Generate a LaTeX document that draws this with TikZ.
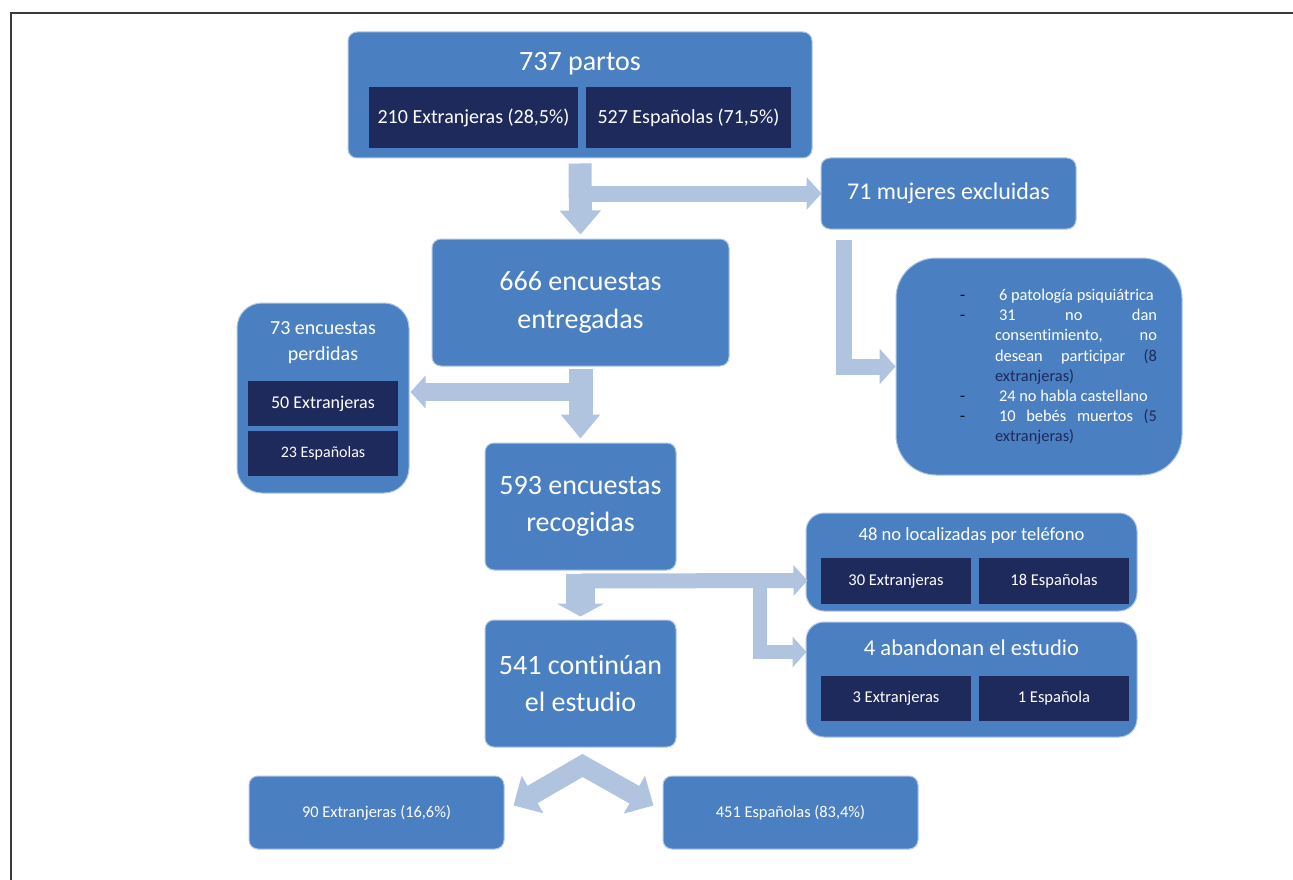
\documentclass[tikz,border=0pt]{standalone}
\usepackage{fontspec}
\setmainfont{Carlito}[Ligatures=CommonOff]
\usepackage{xcolor}
\usetikzlibrary{arrows.meta,calc,positioning}
\definecolor{boxblue}{HTML}{4A80C1}
\definecolor{navy}{HTML}{1F2A5C}
\definecolor{flowblue}{HTML}{B0C3DF}
\definecolor{framegray}{HTML}{3A3A3A}
\newcommand{\fs}[2]{\fontsize{#1}{#2}\selectfont}
\newcommand{\guion}[1][39pt]{\hangindent=35pt\hangafter=1\noindent\makebox[#1][l]{\textcolor{black}{-}}}

\begin{document}
\begin{tikzpicture}[x=1pt,y=-1pt,
box/.style={fill=boxblue, draw=white!55!boxblue, line width=1pt, rounded corners=9pt, text=white, align=center, inner sep=0pt},
dark/.style={fill=navy, text=white, inner sep=0pt, align=center},
txt/.style={text=white, inner sep=0pt, align=center},
flow/.style={draw=flowblue, line join=miter}]
\useasboundingbox (0,0) rectangle (1293,880);
\draw[line width=2pt, framegray] (1293,13) -- (11,13) -- (11,880);

\node[box, minimum width=464pt, minimum height=126pt] (partos) at (580,95) {};
\node[txt, font=\fs{28}{34}] (partostit) at (580,64) {737 partos};
\node[dark, minimum width=209pt, minimum height=61pt, font=\fs{20}{24}] (partosext) at (473.5,117.5) {210 Extranjeras (28,5\%)};
\node[dark, minimum width=205pt, minimum height=61pt, font=\fs{20}{24}] (partosesp) at (688.5,117.5) {527 Españolas (71,5\%)};

\node[box, minimum width=255pt, minimum height=71pt, font=\fs{24}{28}] (excl) at (948.5,193.5) {71 mujeres excluidas};

\node[box, minimum width=297pt, minimum height=127pt, font=\fs{28}{38}] (enc) at (580.5,302.5) {666 encuestas\\entregadas};

\node[box, rounded corners=25pt, minimum width=172pt, minimum height=190pt] (lost) at (323,398) {};
\node[txt, font=\fs{20}{26}] (losttit) at (323,343) {73 encuestas\\perdidas};
\node[dark, minimum width=150pt, minimum height=45pt, font=\fs{18}{22}] (lostext) at (323,403.5) {50 Extranjeras};
\node[dark, minimum width=150pt, minimum height=45pt, font=\fs{16}{20}] (lostesp) at (323,453.5) {23 Españolas};

\node[box, rounded corners=40pt, minimum width=286pt, minimum height=217pt] (excllist) at (1039,366.5) {};
\node[txt, align=justify, text width=197pt, font=\fs{16.4}{20.2}] (excltext) at (1058.5,367)
{\hyphenpenalty=10000\tolerance=10000\hbadness=10000
\guion 6 patología psiquiátrica\par
\guion 31 no dan\linebreak consentimiento, no\linebreak desean participar \textcolor{navy}{(8\linebreak extranjeras)}\par
\guion 24 no habla castellano\par
\guion 10 bebés muertos \textcolor{navy}{(5\linebreak extranjeras)}\par};

\node[box, minimum width=191pt, minimum height=127pt, font=\fs{28}{37}] (rec) at (580.5,506.5) {593 encuestas\\recogidas};

\node[box, rounded corners=18pt, minimum width=331pt, minimum height=98pt] (nl) at (971.5,562) {};
\node[txt, font=\fs{18.6}{22}] (nltit) at (971.5,536) {48 no localizadas por teléfono};
\node[dark, minimum width=150pt, minimum height=46pt, font=\fs{16.5}{20}] (nlext) at (896,581) {30 Extranjeras};
\node[dark, minimum width=150pt, minimum height=46pt, font=\fs{16.5}{20}] (nlesp) at (1054,581) {18 Españolas};

\node[box, rounded corners=18pt, minimum width=331pt, minimum height=115pt] (ab) at (971.5,679.5) {};
\node[txt, font=\fs{22.6}{26}] (abtit) at (971.5,648) {4 abandonan el estudio};
\node[dark, minimum width=150pt, minimum height=45pt, font=\fs{16.5}{20}] (abext) at (896,698.5) {3 Extranjeras};
\node[dark, minimum width=150pt, minimum height=45pt, font=\fs{16.5}{20}] (abesp) at (1054,698.5) {1 Española};

\node[box, minimum width=191pt, minimum height=127pt, font=\fs{28}{37}] (cont) at (580.5,683.5) {541 continúan\\el estudio};

\node[box, minimum width=255pt, minimum height=73pt, font=\fs{16.4}{20}] (finext) at (376.5,812.5) {90 Extranjeras (16,6\%)};
\node[box, minimum width=255pt, minimum height=73pt, font=\fs{16.4}{20}] (finesp) at (790.5,812.5) {451 Españolas (83,4\%)};

\draw[flow, line width=23pt, -{Triangle[width=40pt,length=24pt]}] ($(partos.south)+(0,5)$) -- ($(enc.north)+(0,-4)$);
\draw[flow, line width=16pt, -{Triangle[width=32pt,length=15pt]}] (partos.south |- excl.west) -- ($(excl.west)+(1,0)$);
\draw[flow, line width=16pt, -{Triangle[width=35pt,length=16pt]}] ($(excl.south west)+(23,10)$) |- (excllist.west);

\draw[flow, line width=24pt, -{Triangle[width=38pt,length=24pt]}] ($(enc.south)+(0,2)$) -- ($(rec.north)+(0,-4)$);
\draw[flow, line width=18pt, -{Triangle[width=32pt,length=15pt]}] ($(enc.south |- lost.east)+(0,-6)$) -- ($(lost.east)+(1,-6)$);

\draw[flow, line width=29pt, -{Triangle[width=47pt,length=13pt]}] ($(rec.south)+(0,3)$) -- ($(cont.north)+(0,-3)$);
\draw[flow, line width=15pt, -{Triangle[width=30pt,length=14pt]}] ($(rec.south)+(0,10.5)$) -- ($(nl.west)+(2,18.5)$);
\draw[flow, line width=14pt, -{Triangle[width=30pt,length=14pt]}] ($(rec.south)+(179.5,10.5)$) |- ($(ab.west)+(1,-27.5)$);

\draw[flow, line width=20pt, {Triangle[width=42pt,length=22pt]}-{Triangle[width=42pt,length=22pt]}] ($(finext.north east)+(9,30)$) -- ($(cont.south)+(2,18)$) -- ($(finesp.north west)+(-9,30)$);
\end{tikzpicture}
\end{document}
